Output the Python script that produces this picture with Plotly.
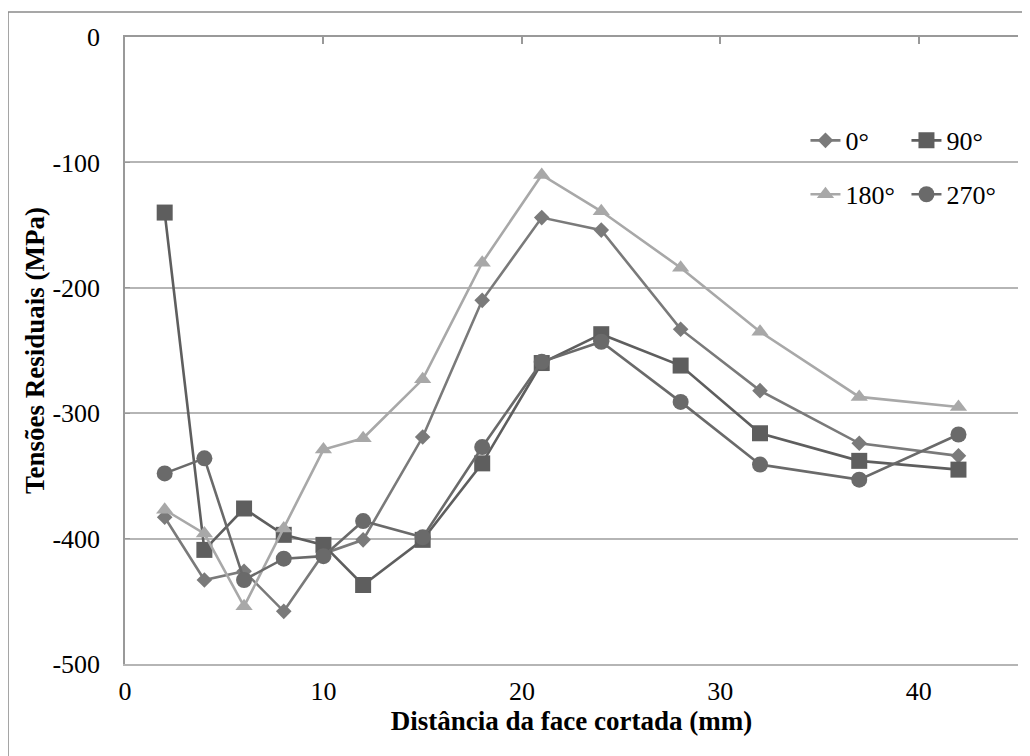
import plotly.graph_objects as go

x_mm = [2, 4, 6, 8, 10, 12, 15, 18, 21, 24, 28, 32, 37, 42]
s0 = [-383, -433, -426, -458, -412, -401, -319, -210, -144, -154, -233, -282, -324, -334]
s90 = [-140, -409, -376, -397, -405, -437, -401, -340, -260, -237, -262, -316, -338, -345]
s180 = [-377, -396, -454, -392, -329, -320, -273, -180, -110, -139, -184, -235, -287, -295]
s270 = [-348, -336, -433, -416, -414, -386, -399, -327, -259, -243, -291, -341, -353, -317]

names = ["0°", "90°", "180°", "270°"]
y_ticks = [0, -100, -200, -300, -400, -500]
x_ticks = [0, 10, 20, 30, 40]

FONT = "Liberation Serif"

fig = go.Figure()
series = [
    (s0, names[0], "#7a7a7a", "diamond", 12, "legend"),
    (s90, names[1], "#5e5e5e", "square", 16, "legend"),
    (s180, names[2], "#a8a8a8", "triangle-up", 15, "legend2"),
    (s270, names[3], "#6a6a6a", "circle", 16, "legend2"),
]
for ys, nm, col, sym, sz, lg in series:
    fig.add_trace(go.Scatter(
        x=x_mm, y=ys, name=nm, mode="lines+markers",
        line=dict(color=col, width=2.6),
        marker=dict(symbol=sym, size=sz, color=col, line=dict(width=0)),
        legend=lg,
    ))

# invisible trace for top axis ticks
fig.add_trace(go.Scatter(x=[0, 45], y=[0, 0], xaxis="x2", mode="markers",
                         marker=dict(opacity=0), showlegend=False, hoverinfo="skip"))

fig.update_layout(
    width=1030, height=756,
    margin=dict(l=117, r=20, t=29, b=100, autoexpand=False),
    paper_bgcolor="white", plot_bgcolor="white",
    font=dict(family=FONT, color="black", size=26),
    xaxis=dict(
        range=[0, 45], tickvals=x_ticks, ticktext=[str(v) for v in x_ticks],
        showgrid=False, zeroline=False, showline=True, linecolor="#b5b5b5", linewidth=2,
        ticks="", tickfont=dict(family=FONT, size=26), ticklabelstandoff=3, automargin=False,
        title=dict(text="<b>Distância da face cortada (mm)</b>", font=dict(family=FONT, size=27), standoff=6),
    ),
    xaxis2=dict(
        range=[0, 45], overlaying="x", side="top", tickvals=x_ticks + [45],
        showticklabels=False, ticks="inside", ticklen=7, tickcolor="#999999", tickwidth=1.5,
        showline=True, linecolor="#999999", linewidth=1.5, showgrid=False, zeroline=False,
        automargin=False,
    ),
    yaxis=dict(
        range=[-500, 0], tickvals=y_ticks, ticktext=[str(v) for v in y_ticks],
        showgrid=True, gridcolor="#b5b5b5", gridwidth=1.5, zeroline=False,
        showline=True, linecolor="#999999", linewidth=1.5,
        ticks="inside", ticklen=5, tickcolor="#999999",
        tickfont=dict(family=FONT, size=26), ticklabelstandoff=18, automargin=False,
        title=dict(text="<b>Tensões Residuais (MPa)</b>", font=dict(family=FONT, size=27), standoff=0),
    ),
    legend=dict(
        orientation="h", x=0.762, y=0.835, xanchor="left", yanchor="middle",
        font=dict(family=FONT, size=26), bgcolor="rgba(0,0,0,0)", entrywidth=56, entrywidthmode="pixels",
        itemwidth=30, tracegroupgap=0,
    ),
    legend2=dict(
        orientation="h", x=0.762, y=0.749, xanchor="left", yanchor="middle",
        font=dict(family=FONT, size=26), bgcolor="rgba(0,0,0,0)", entrywidth=56, entrywidthmode="pixels",
        itemwidth=30, tracegroupgap=0,
    ),
    shapes=[dict(type="rect", xref="paper", yref="paper",
                 x0=-0.131, x1=1.02, y0=-0.16, y1=1.0399,
                 line=dict(color="#8a8a8a", width=1.5), fillcolor="rgba(0,0,0,0)", layer="below")],
)

fig.write_html("out.html")
